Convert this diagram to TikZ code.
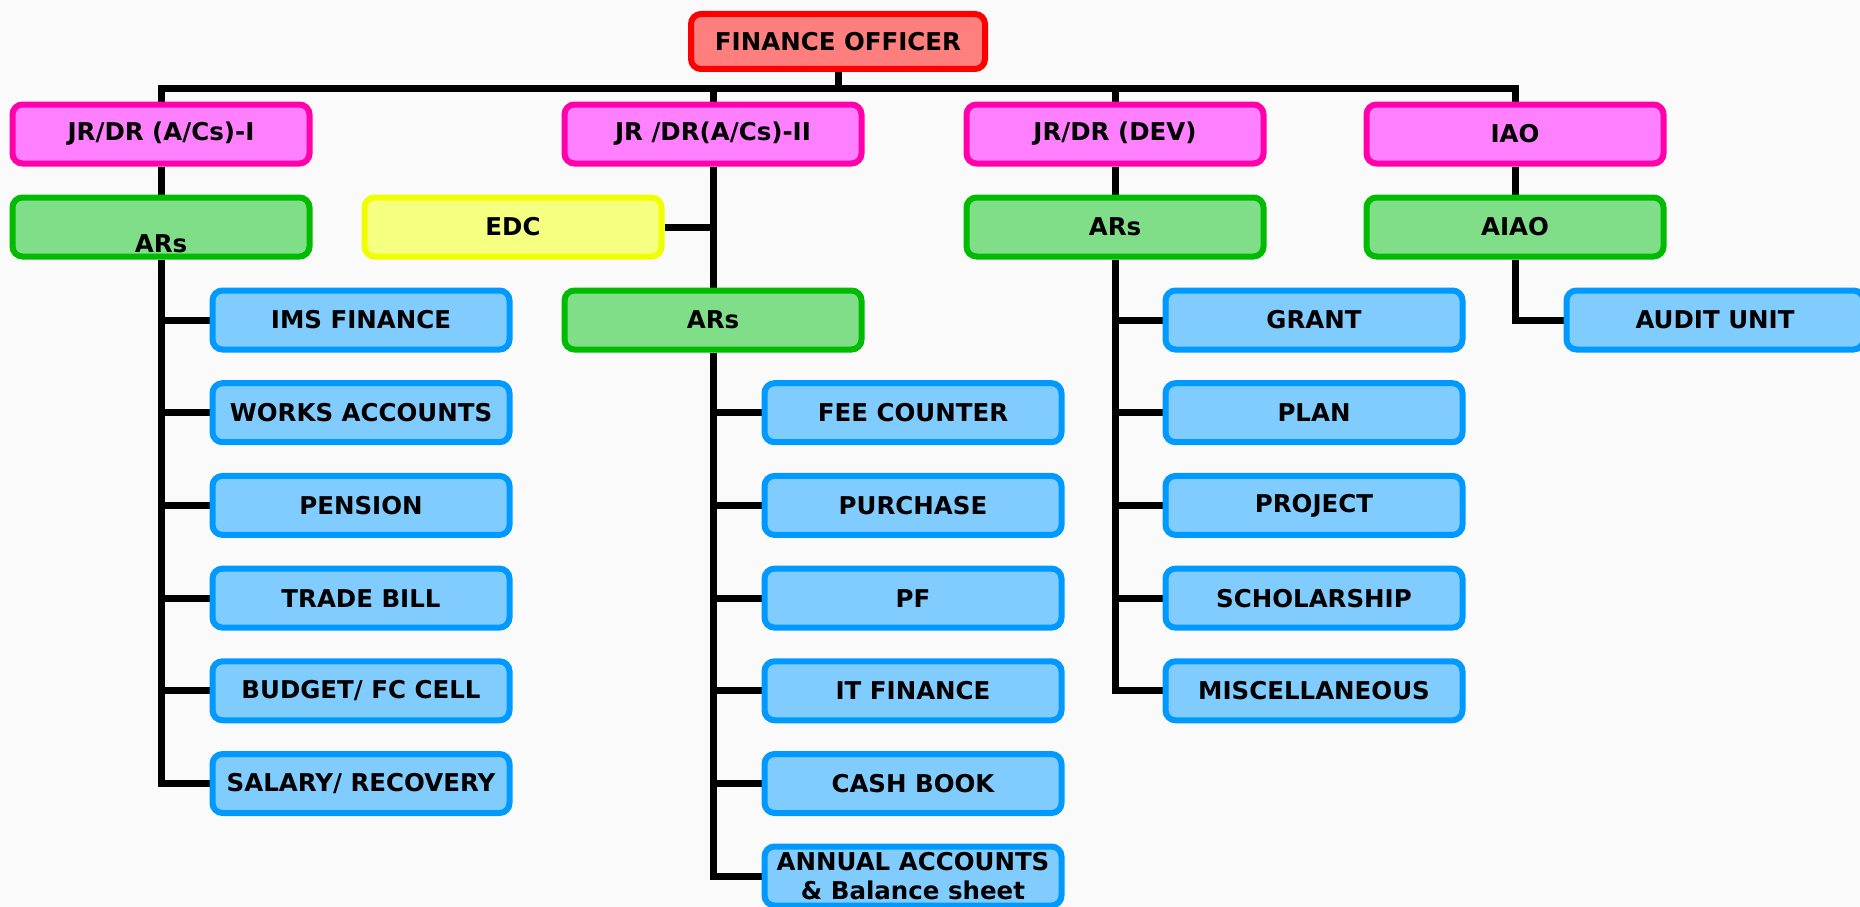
\documentclass[tikz,border=0pt]{standalone}
\usepackage{fontspec}
\setmainfont{DejaVu Sans}
\usetikzlibrary{backgrounds}
\definecolor{bgc}{HTML}{FAFAFA}
\definecolor{foFill}{HTML}{FF7F7F}
\definecolor{foLine}{HTML}{FF0000}
\definecolor{pkFill}{HTML}{FF80FF}
\definecolor{pkLine}{HTML}{FF00AA}
\definecolor{grFill}{HTML}{80DD88}
\definecolor{grLine}{HTML}{00BB00}
\definecolor{ylFill}{HTML}{F5FF80}
\definecolor{ylLine}{HTML}{F0FF00}
\definecolor{blFill}{HTML}{80CCFF}
\definecolor{blLine}{HTML}{0099FF}
\tikzset{
  box/.style={rectangle, rounded corners=10pt, line width=6pt, minimum width=297pt,
    minimum height=59pt, inner sep=0pt, align=center,
    font=\fontsize{24.5}{29}\selectfont\bfseries},
  fobox/.style={box, draw=foLine, fill=foFill, minimum width=294pt, minimum height=55pt},
  pkbox/.style={box, draw=pkLine, fill=pkFill},
  grbox/.style={box, draw=grLine, fill=grFill},
  ylbox/.style={box, draw=ylLine, fill=ylFill},
  blbox/.style={box, draw=blLine, fill=blFill},
  conn/.style={line width=7pt, black},
}
\begin{document}
\begin{tikzpicture}[x=1pt,y=-1pt]
\useasboundingbox (0,0) rectangle (1860,907);
\clip (0,0) rectangle (1860,907);
\begin{pgfonlayer}{background}
\fill[bgc] (0,0) rectangle (1860,907);
\end{pgfonlayer}
% level 0
\node[fobox] (fo) at (838,41.5) {FINANCE OFFICER};
% level 1
\node[pkbox] (jr1) at (161,134) {JR/DR (A/Cs)-I};
\node[pkbox] (jr2) at (713,134) {JR /DR(A/Cs)-II};
\node[pkbox] (dev) at (1115,134) {JR/DR (DEV)};
\node[pkbox] (iao) at (1515,134) {IAO};
% level 2
\node[grbox, text height=50pt, text depth=0pt] (ars1) at (161,227) {ARs};
\node[ylbox] (edc) at (513,227) {EDC};
\node[grbox] (arsdev) at (1115,227) {ARs};
\node[grbox] (aiao) at (1515,227) {AIAO};
\node[grbox] (ars2) at (713,320) {ARs};
% left column
\node[blbox] (ims) at (361,320) {IMS FINANCE};
\node[blbox] (works) at (361,412.7) {WORKS ACCOUNTS};
\node[blbox] (pension) at (361,505.4) {PENSION};
\node[blbox] (trade) at (361,598.1) {TRADE BILL};
\node[blbox] (budget) at (361,690.8) {BUDGET/ FC CELL};
\node[blbox] (salary) at (361,783.5) {SALARY/ RECOVERY};
% middle column
\node[blbox] (fee) at (913,412.7) {FEE COUNTER};
\node[blbox] (purchase) at (913,505.4) {PURCHASE};
\node[blbox] (pf) at (913,598.1) {PF};
\node[blbox] (itfin) at (913,690.8) {IT FINANCE};
\node[blbox] (cash) at (913,783.5) {CASH BOOK};
\node[blbox] (annual) at (913,876) {ANNUAL ACCOUNTS\\\& Balance sheet};
% right column
\node[blbox] (grant) at (1314,320) {GRANT};
\node[blbox] (plan) at (1314,412.7) {PLAN};
\node[blbox] (project) at (1314,505.4) {PROJECT};
\node[blbox] (scholar) at (1314,598.1) {SCHOLARSHIP};
\node[blbox] (misc) at (1314,690.8) {MISCELLANEOUS};
% audit
\node[blbox] (audit) at (1715,320) {AUDIT UNIT};
\coordinate (bus) at (838,88);
\begin{pgfonlayer}{background}
% top bus
\draw[conn] (fo.south) -- (fo.south |- bus);
\draw[conn] (jr1.north) -- (jr1.north |- bus) -- (iao.north |- bus) -- (iao.north);
\draw[conn] (jr2.north) -- (jr2.north |- bus);
\draw[conn] (dev.north) -- (dev.north |- bus);
% left branch
\draw[conn] (jr1.south) -- (ars1.north);
\draw[conn] (ars1.south) -- (ars1.south |- salary.west) -- (salary.west);
\foreach \n in {ims,works,pension,trade,budget}
  \draw[conn] (\n.west) -- (\n.west -| ars1.south);
% middle branch
\draw[conn] (jr2.south) -- (ars2.north);
\draw[conn] (edc.east) -- (edc.east -| jr2.south);
\draw[conn] (ars2.south) -- (ars2.south |- annual.west) -- (annual.west);
\foreach \n in {fee,purchase,pf,itfin,cash}
  \draw[conn] (\n.west) -- (\n.west -| ars2.south);
% dev branch
\draw[conn] (dev.south) -- (arsdev.north);
\draw[conn] (arsdev.south) -- (arsdev.south |- misc.west) -- (misc.west);
\foreach \n in {grant,plan,project,scholar}
  \draw[conn] (\n.west) -- (\n.west -| arsdev.south);
% iao branch
\draw[conn] (iao.south) -- (aiao.north);
\draw[conn] (aiao.south) -- (aiao.south |- audit.west) -- (audit.west);
\end{pgfonlayer}
\end{tikzpicture}
\end{document}
